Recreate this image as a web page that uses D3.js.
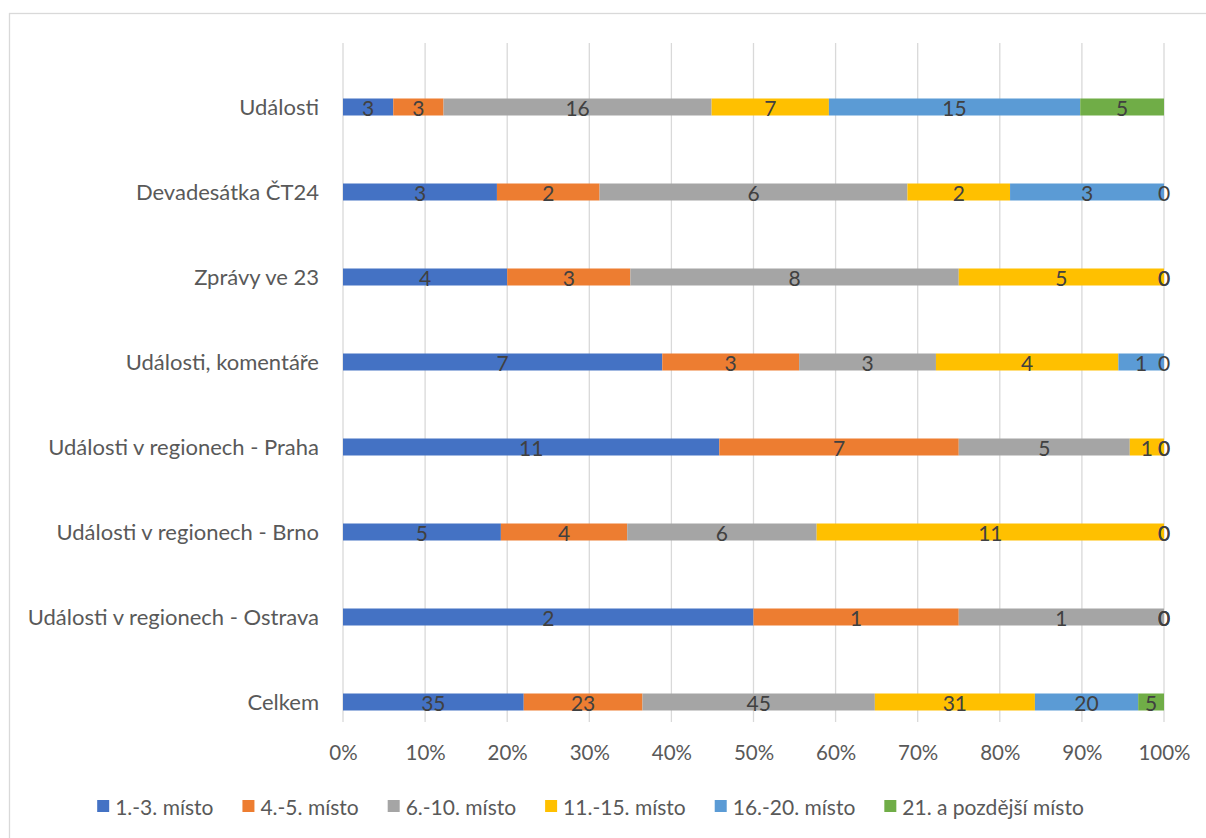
<!DOCTYPE html>
<html><head><meta charset="utf-8">
<script src="https://cdn.jsdelivr.net/npm/d3@7"></script>
<style>body{margin:0;background:#fff}svg{display:block}text{font-family:Lato,"Open Sans",sans-serif}</style>
</head><body>
<svg id="c" width="1206" height="838"></svg>
<script>
const categories = ["Události","Devadesátka ČT24","Zprávy ve 23","Události, komentáře","Události v regionech - Praha","Události v regionech - Brno","Události v regionech - Ostrava","Celkem"];
const seriesNames = ["1.-3. místo","4.-5. místo","6.-10. místo","11.-15. místo","16.-20. místo","21. a pozdější místo"];
const s1 = [3,3,4,7,11,5,2,35];
const s2 = [3,2,3,3,7,4,1,23];
const s3 = [16,6,8,3,5,6,1,45];
const s4 = [7,2,5,4,1,11,0,31];
const s5 = [15,3,0,1,0,0,0,20];
const s6 = [5,0,0,0,0,0,0,5];
const colors = ["#4472C4","#ED7D31","#A5A5A5","#FFC000","#5B9BD5","#70AD47"];
const tickValues = [0,0.1,0.2,0.3,0.4,0.5,0.6,0.7,0.8,0.9,1];

const series = [s1,s2,s3,s4,s5,s6];
const rows = categories.map((c,i)=>{const r={cat:c}; seriesNames.forEach((n,j)=>r[n]=series[j][i]); return r;});
const stack = d3.stack().keys(seriesNames).offset(d3.stackOffsetExpand);
const stacked = stack(rows);

const svg = d3.select("#c");
svg.append("rect").attr("x",9.5).attr("y",13.5).attr("width",1230).attr("height",840)
  .attr("fill","none").attr("stroke","#d9d9d9").attr("stroke-width",1.3);

const x = d3.scaleLinear().domain([0,1]).range([343,1164]);
const y = d3.scaleBand().domain(categories).range([64.5,744.5]).paddingInner(0.8).paddingOuter(0.4);
const gridTop = 43, gridBot = 722;

svg.append("g").selectAll("line").data(tickValues).join("line")
  .attr("x1",d=>x(d)).attr("x2",d=>x(d)).attr("y1",gridTop).attr("y2",gridBot)
  .attr("stroke","#d9d9d9").attr("stroke-width",1.3);

const bh = 17;
const g = svg.append("g");
stacked.forEach((layer,j)=>{
  g.append("g").selectAll("rect").data(layer).join("rect")
    .attr("x",d=>x(d[0])).attr("width",d=>x(d[1])-x(d[0]))
    .attr("y",d=>y(d.data.cat)+y.bandwidth()/2-bh/2).attr("height",bh)
    .attr("fill",colors[j]);
});
const lbl = svg.append("g");
stacked.forEach((layer,j)=>{
  lbl.append("g").selectAll("text").data(layer).join("text")
    .attr("x",d=>x((d[0]+d[1])/2)).attr("y",d=>y(d.data.cat)+y.bandwidth()/2)
    .attr("text-anchor","middle").attr("dominant-baseline","central")
    .attr("font-size",21).attr("fill","#404040")
    .text(d=>d.data[seriesNames[j]]);
});

// category labels
const ya = d3.axisLeft(y).tickSize(0).tickPadding(0);
const yg = svg.append("g").attr("transform","translate(319,0)").call(ya);
yg.select(".domain").remove();
yg.selectAll("text").attr("font-size",22).attr("fill","#595959").attr("font-family","Lato,sans-serif").attr("dy","0.35em");

// x axis ticks
const xa = d3.axisBottom(x).tickValues(tickValues).tickFormat(d3.format(".0%")).tickSize(0).tickPadding(0);
const xg = svg.append("g").attr("transform","translate(0,753)").call(xa);
xg.select(".domain").remove();
xg.selectAll("text").attr("font-size",20.5).attr("fill","#595959").attr("font-family","Lato,sans-serif").attr("dy","0.35em").attr("y",0);

// legend
const leg = svg.append("g");
const items = leg.selectAll("g").data(seriesNames).join("g");
items.append("rect").attr("width",12).attr("height",12).attr("y",-6).attr("fill",(d,i)=>colors[i]);
items.append("text").attr("x",18).attr("dominant-baseline","central").attr("font-size",21).attr("fill","#595959").text(d=>d);
const widths = items.nodes().map(n=>18+d3.select(n).select("text").node().getComputedTextLength());
const gap = 29;
const total = d3.sum(widths)+gap*(widths.length-1);
let cx = 590.5 - total/2;
items.each(function(d,i){ d3.select(this).attr("transform",`translate(${cx},806)`); cx += widths[i]+gap; });
</script>
</body></html>
